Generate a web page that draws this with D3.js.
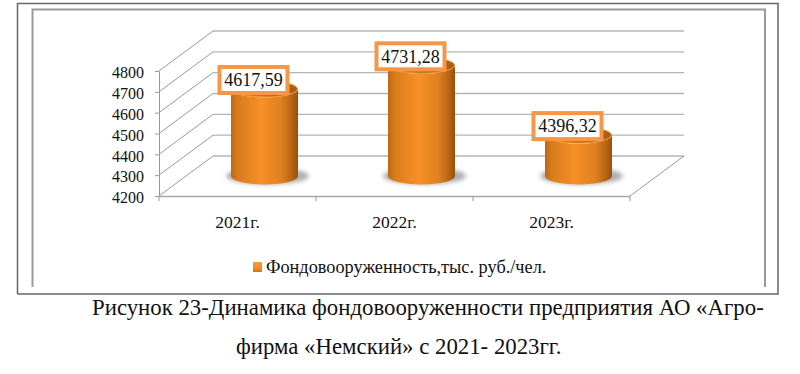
<!DOCTYPE html>
<html lang="ru">

<head>
    <meta charset="UTF-8">
    <title>Фондовооруженность</title>
    <script src="https://cdn.jsdelivr.net/npm/d3@7"></script>
    <style>
        html, body { margin: 0; padding: 0; background: #fff; overflow: hidden; }
        text { font-family: "Liberation Serif", serif; fill: #111; }
    </style>
</head>

<body>
    <script>
        // data
        const categories = ["2021г.", "2022г.", "2023г."];
        const values = [4617.59, 4731.28, 4396.32];
        const yTicks = [4200, 4300, 4400, 4500, 4600, 4700, 4800];
        const seriesName = "Фондовооруженность,тыс. руб./чел.";
        const captionLines = [
            "Рисунок 23-Динамика фондовооруженности предприятия АО «Агро-",
            "фирма «Немский» с 2021- 2023гг."
        ];

        const width = 800, height = 374;
        const orange = "#f79646";

        // front plane of the fake 3d box, the back plane is shifted by depth
        const plot = { left: 159, right: 630, top: 71, bottom: 196 };
        const depth = { x: 54, y: -40 };

        const svg = d3.select("body").append("svg")
            .attr("width", width).attr("height", height)
            .style("display", "block");

        const xScale = d3.scaleBand().domain(categories).range([plot.left, plot.right]);
        const yScale = d3.scaleLinear().domain([4200, 4800]).range([plot.bottom, plot.top]);

        // gradients for the cylinders
        const defs = svg.append("defs");

        const bodyGrad = defs.append("linearGradient").attr("id", "cylBody");
        [[0, "#bd6813"], [0.1, "#d97c1c"], [0.45, "#f79026"], [0.75, "#e0801f"], [0.92, "#b56213"], [1, "#94500f"]]
            .forEach(s => bodyGrad.append("stop").attr("offset", s[0]).attr("stop-color", s[1]));

        const topGrad = defs.append("linearGradient").attr("id", "cylTop");
        [[0, "#e98522"], [0.5, "#c4701a"], [1, "#a85c12"]]
            .forEach(s => topGrad.append("stop").attr("offset", s[0]).attr("stop-color", s[1]));

        const legendGrad = defs.append("linearGradient").attr("id", "legendKey").attr("x2", 0).attr("y2", 1);
        [[0, "#fb9a3c"], [0.6, "#f58a25"], [1, "#c9741f"]]
            .forEach(s => legendGrad.append("stop").attr("offset", s[0]).attr("stop-color", s[1]));

        defs.append("filter").attr("id", "soft")
            .attr("x", "-20%").attr("width", "140%").attr("y", "-40%").attr("height", "180%")
            .append("feGaussianBlur").attr("stdDeviation", 2.2);

        // outer frames
        svg.append("path")
            .attr("d", "M17.5,294V3.5H778V294H17.5")
            .attr("fill", "none").attr("stroke", "#666").attr("stroke-width", 1.5);
        svg.append("path")
            .attr("d", "M32.5,287V9.5H765V287")
            .attr("fill", "none").attr("stroke", "#999").attr("stroke-width", 2);

        // back wall gridlines and side wall
        const grid = svg.append("g");
        grid.selectAll(".back").data(yTicks).enter().append("line")
            .attr("x1", plot.left + depth.x).attr("x2", plot.right + depth.x)
            .attr("y1", d => yScale(d) + depth.y).attr("y2", d => yScale(d) + depth.y)
            .attr("stroke", "#b4b4b4").attr("stroke-width", 1.4);
        grid.selectAll(".side").data(yTicks).enter().append("line")
            .attr("x1", plot.left).attr("x2", plot.left + depth.x)
            .attr("y1", d => yScale(d)).attr("y2", d => yScale(d) + depth.y)
            .attr("stroke", "#999").attr("stroke-width", 1);
        grid.append("line")
            .attr("x1", plot.right).attr("x2", plot.right + depth.x)
            .attr("y1", plot.bottom).attr("y2", plot.bottom + depth.y)
            .attr("stroke", "#999").attr("stroke-width", 1);

        // axes
        const yAxis = svg.append("g")
            .attr("transform", `translate(${plot.left},0)`)
            .call(d3.axisLeft(yScale).tickValues(yTicks).tickSize(4).tickPadding(11).tickFormat(d3.format("d")).tickSizeOuter(0));
        yAxis.select(".domain").attr("stroke", "#999");
        yAxis.selectAll("line").attr("stroke", "#999");
        yAxis.selectAll("text")
            .attr("dy", "0.42em")
            .style("font-size", "16px").style("font-family", "Liberation Serif").attr("fill", "#111");

        const xAxis = svg.append("g")
            .attr("transform", `translate(0,${plot.bottom})`)
            .call(d3.axisBottom(xScale).tickSize(0).tickPadding(20).tickSizeOuter(0));
        xAxis.select(".domain").attr("stroke", "#a8a8a8").attr("stroke-width", 1.4);
        xAxis.selectAll("text").style("font-size", "17.5px").style("font-family", "Liberation Serif").attr("fill", "#111");

        // ticks sit on the band edges, not the centres
        const edges = categories.map(c => xScale(c)).concat(plot.right);
        xAxis.selectAll(".edge").data(edges).enter().append("line")
            .attr("x1", d => d).attr("x2", d => d)
            .attr("y1", 0).attr("y2", 5)
            .attr("stroke", "#999");

        // cylinders stand half way into the box
        const rx = 33.5, ry = 8.5;
        const cx = c => xScale(c) + xScale.bandwidth() / 2 + depth.x / 2;
        const cy = v => yScale(v) + depth.y / 2;
        const baseY = cy(4200);

        const bars = svg.selectAll(".bar")
            .data(categories.map((c, i) => ({ c: c, v: values[i] })))
            .enter().append("g").attr("class", "bar");

        bars.append("ellipse")
            .attr("cx", d => cx(d.c) + 3).attr("cy", baseY + 0)
            .attr("rx", rx + 8).attr("ry", ry)
            .attr("fill", "#8c8c94").attr("opacity", 0.7)
            .attr("filter", "url(#soft)");

        bars.append("path")
            .attr("d", d => {
                const l = cx(d.c) - rx, r = cx(d.c) + rx, t = cy(d.v);
                return `M${l},${t}L${l},${baseY}A${rx},${ry} 0 0 0 ${r},${baseY}L${r},${t}A${rx},${ry} 0 0 1 ${l},${t}Z`;
            })
            .attr("fill", "url(#cylBody)");

        bars.append("ellipse")
            .attr("cx", d => cx(d.c)).attr("cy", d => cy(d.v))
            .attr("rx", rx - 0.5).attr("ry", ry - 0.5)
            .attr("fill", "url(#cylTop)").attr("stroke", "#f09030").attr("stroke-width", 1);

        // value labels
        const labelW = 68, labelH = 26;
        bars.append("rect")
            .attr("x", d => cx(d.c) - 11 - labelW / 2)
            .attr("y", d => cy(d.v) - 9 - labelH / 2)
            .attr("width", labelW).attr("height", labelH)
            .attr("fill", "#fff").attr("stroke", orange).attr("stroke-width", 4);

        bars.append("text")
            .attr("x", d => cx(d.c) - 11)
            .attr("y", d => cy(d.v) - 9)
            .attr("dy", "0.35em")
            .attr("text-anchor", "middle")
            .style("font-size", "18px")
            .text(d => d.v.toFixed(2).replace(".", ","));

        // legend
        svg.append("rect")
            .attr("x", 253).attr("y", 262).attr("width", 9).attr("height", 10)
            .attr("fill", "url(#legendKey)");
        svg.append("text")
            .attr("x", 266).attr("y", 273)
            .style("font-size", "18.3px")
            .text(seriesName);

        // caption under the frame
        svg.append("text")
            .attr("x", 92).attr("y", 315)
            .style("font-size", "22.8px")
            .text(captionLines[0]);
        svg.append("text")
            .attr("x", 236).attr("y", 354)
            .style("font-size", "22.8px")
            .text(captionLines[1]);
    </script>
</body>

</html>
